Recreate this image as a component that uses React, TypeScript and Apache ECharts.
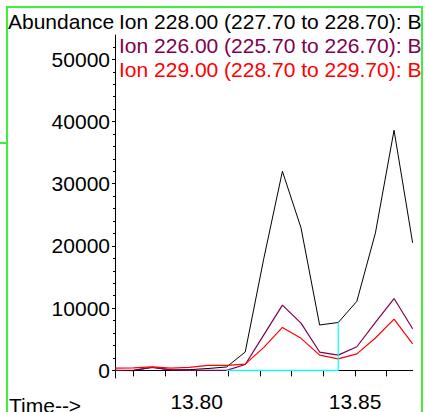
import React, { useEffect, useRef } from "react";
import * as echarts from "echarts";

const times = [
  13.7742, 13.78007, 13.78595, 13.79182, 13.79769, 13.80357, 13.80944, 13.81532, 13.82119,
  13.82706, 13.83294, 13.83881, 13.84468, 13.85056, 13.85643, 13.86231, 13.86818,
];
const ion228 = [0, -50, 500, 80, 120, 300, 550, 2950, 18000, 32000, 22900, 7300, 7700, 11100, 22100, 38600, 20500];
const ion226 = [0, 60, 480, 80, 0, 0, 0, 950, 5700, 10500, 7600, 2950, 2450, 3800, 7700, 11550, 6700];
const ion229 = [370, 420, 570, 370, 480, 800, 800, 1000, 3700, 6900, 5150, 2450, 1850, 2650, 5200, 8250, 4250];
const seriesNames = [
  "Ion 228.00 (227.70 to 228.70): B",
  "Ion 226.00 (225.70 to 226.70): B",
  "Ion 229.00 (228.70 to 229.70): B",
];
const seriesColors = ["#000000", "#80004f", "#ff0000"];
const peakIndex = 9;
const baselineStartIndex = 6;
const baselineEndIndex = 12;
const yTickValues = [0, 10000, 20000, 30000, 40000, 50000];
const yMinorTickValues = [
  0, 2000, 4000, 6000, 8000, 10000, 12000, 14000, 16000, 18000, 20000, 22000, 24000, 26000, 28000,
  30000, 32000, 34000, 36000, 38000, 40000, 42000, 44000, 46000, 48000, 50000, 52000,
];
const xTickValues = [13.78, 13.79, 13.8, 13.81, 13.82, 13.83, 13.84, 13.85, 13.86];
const xLabelValues = [13.8, 13.85];
const yTitle = "Abundance";
const xTitle = "Time-->";

const FONT = "Liberation Sans, Arial, sans-serif";
const FS = 21;
const GREEN = "#3cf03c";

export default function App() {
  const ref = useRef<HTMLDivElement>(null);
  useEffect(() => {
    if (!ref.current) return;
    const chart = echarts.init(ref.current, undefined, { renderer: "svg" });
    const pairs = (vals: number[]) => vals.map((v, i) => [times[i], v]);
    const blackData: any[] = pairs(ion228).map((p, i) =>
      i === peakIndex
        ? {
            value: p,
            label: {
              show: true,
              position: "top",
              distance: 4,
              offset: [3, 0],
              formatter: (q: any) => q.value[0].toFixed(2),
              fontSize: FS,
              fontFamily: FONT,
              color: "#000",
            },
          }
        : p
    );
    const baseline = [
      [times[baselineStartIndex], 0],
      [times[baselineEndIndex], 0],
      [times[baselineEndIndex], ion228[baselineEndIndex]],
    ];
    const option: any = {
      animation: false,
      backgroundColor: "#fff",
      textStyle: { fontFamily: FONT },
      grid: { left: 115, right: 12.3, top: 35, bottom: 30, containLabel: false },
      xAxis: {
        type: "value",
        min: 13.7742,
        max: 13.8682,
        axisLine: { show: true, lineStyle: { color: "#000", width: 1 } },
        axisTick: { show: true, length: 6, customValues: xTickValues, lineStyle: { color: "#000", width: 1 } },
        axisLabel: {
          show: true,
          customValues: xLabelValues,
          formatter: (v: number) => v.toFixed(2),
          fontSize: FS,
          fontFamily: FONT,
          color: "#000",
          margin: 13,
        },
        splitLine: { show: false },
      },
      yAxis: [
        {
          type: "value",
          min: -1223,
          max: 53908,
          position: "left",
          axisLine: { show: true, lineStyle: { color: "#000", width: 1 } },
          axisTick: { show: true, length: 3, customValues: yTickValues, lineStyle: { color: "#000" } },
          axisLabel: {
            show: true,
            customValues: yTickValues,
            formatter: (v: number) => String(Math.round(v)),
            fontSize: FS,
            fontFamily: FONT,
            color: "#000",
            margin: 5,
          },
          splitLine: { show: false },
        },
        {
          type: "value",
          min: -1223,
          max: 53908,
          position: "left",
          axisLine: { show: false },
          axisTick: { show: true, length: 2, customValues: yMinorTickValues, lineStyle: { color: "#000" } },
          axisLabel: { show: false },
          splitLine: { show: false },
        },
      ],
      series: [
        {
          name: seriesNames[0],
          type: "line",
          data: blackData,
          showSymbol: false,
          symbol: "none",
          lineStyle: { color: seriesColors[0], width: 1 },
          itemStyle: { color: seriesColors[0] },
        },
        {
          name: seriesNames[1],
          type: "line",
          data: pairs(ion226),
          showSymbol: false,
          symbol: "none",
          lineStyle: { color: seriesColors[1], width: 1.2 },
        },
        {
          name: seriesNames[2],
          type: "line",
          data: pairs(ion229),
          showSymbol: false,
          symbol: "none",
          lineStyle: { color: seriesColors[2], width: 1.2 },
        },
        {
          name: "baseline",
          type: "line",
          data: baseline,
          showSymbol: false,
          symbol: "none",
          lineStyle: { color: "#00ffff", width: 1.2 },
        },
      ],
      graphic: [
        {
          type: "text",
          x: 8,
          y: 21,
          style: { text: yTitle, fontSize: FS, fontFamily: FONT, fill: "#000", verticalAlign: "middle" },
        },
        ...seriesNames.map((n, i) => ({
          type: "text",
          x: 119,
          y: [21, 45, 69.5][i],
          z: 10,
          style: { text: n, fontSize: FS, fontFamily: FONT, fill: seriesColors[i], verticalAlign: "middle" },
        })),
        {
          type: "text",
          x: 9,
          y: 405.5,
          style: { text: xTitle, fontSize: FS, fontFamily: FONT, fill: "#000", verticalAlign: "middle" },
        },
        { type: "rect", z: 50, shape: { x: 423, y: 0, width: 10, height: 412 }, style: { fill: "#fff" } },
        { type: "line", z: 60, shape: { x1: 7, y1: 7, x2: 422, y2: 7 }, style: { stroke: GREEN, lineWidth: 2 } },
        { type: "line", z: 60, shape: { x1: 7, y1: 6, x2: 7, y2: 412 }, style: { stroke: GREEN, lineWidth: 2 } },
        { type: "line", z: 60, shape: { x1: 422, y1: 6, x2: 422, y2: 412 }, style: { stroke: GREEN, lineWidth: 2 } },
        { type: "line", z: 60, shape: { x1: 0, y1: 143, x2: 7, y2: 143 }, style: { stroke: GREEN, lineWidth: 2 } },
      ],
    };
    chart.setOption(option);
    return () => chart.dispose();
  }, []);
  return <div ref={ref} style={{ position: "fixed", left: 0, top: 0, width: 425, height: 412 }} />;
}
